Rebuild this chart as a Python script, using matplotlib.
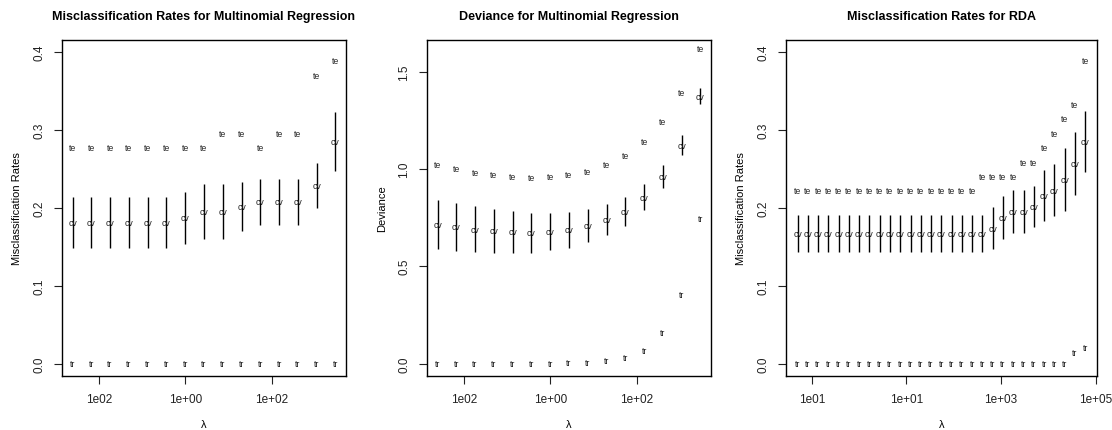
## three panels: misclassification / deviance along the lambda path

import numpy as np
import matplotlib
matplotlib.use('Agg')
import matplotlib.pyplot as plt

plt.rcParams['font.family'] = ['Liberation Sans', 'DejaVu Sans']

## data
# multinomial regression, lambda = exp(logLam1)
logLam1 = [-6, -5, -4, -3, -2, -1, 0, 1, 2, 3, 4, 5, 6, 7, 8]

# misclassification rates
te1 = [0.278, 0.278, 0.278, 0.278, 0.278, 0.278, 0.278, 0.278, 0.296, 0.296, 0.278, 0.296, 0.296, 0.370, 0.389]
cv1 = [0.181, 0.181, 0.181, 0.181, 0.181, 0.181, 0.1875, 0.195, 0.195, 0.2015, 0.208, 0.208, 0.208, 0.229, 0.285]
se1 = [0.0327, 0.0327, 0.0327, 0.0327, 0.0327, 0.0327, 0.0335, 0.035, 0.035, 0.0317, 0.0296, 0.0296, 0.0296, 0.029, 0.0375]
tr1 = [0, 0, 0, 0, 0, 0, 0, 0, 0, 0, 0, 0, 0, 0, 0]

# deviance
te2 = [1.024, 1.002, 0.981, 0.973, 0.962, 0.957, 0.962, 0.973, 0.986, 1.024, 1.070, 1.140, 1.245, 1.395, 1.618]
cv2 = [0.716, 0.702, 0.690, 0.682, 0.677, 0.673, 0.678, 0.688, 0.709, 0.738, 0.783, 0.854, 0.960, 1.122, 1.374]
se2 = [0.125, 0.122, 0.117, 0.112, 0.107, 0.103, 0.096, 0.093, 0.085, 0.080, 0.074, 0.066, 0.060, 0.052, 0.041]
tr2 = [0, 0, 0, 0, 0, 0, 0, 0.003, 0.004, 0.014, 0.031, 0.065, 0.157, 0.353, 0.746]

# RDA, lambda = exp(logLam3)
logLam3 = [-3, -2.5, -2, -1.5, -1, -0.5, 0, 0.5, 1, 1.5, 2, 2.5, 3, 3.5, 4, 4.5, 5,
           5.5, 6, 6.5, 7, 7.5, 8, 8.5, 9, 9.5, 10, 10.5, 11]
te3 = [0.2226, 0.2226, 0.2226, 0.2226, 0.2226, 0.2226, 0.2226, 0.2226, 0.2226, 0.2226,
       0.2226, 0.2226, 0.2226, 0.2226, 0.2226, 0.2226, 0.2226, 0.2226, 0.2406, 0.2406,
       0.2406, 0.2406, 0.2585, 0.2585, 0.2778, 0.2955, 0.3148, 0.333, 0.389]
cv3 = [0.1668, 0.1668, 0.1668, 0.1668, 0.1668, 0.1668, 0.1668, 0.1668, 0.1668, 0.1668,
       0.1668, 0.1668, 0.1668, 0.1668, 0.1668, 0.1668, 0.1668, 0.1668, 0.1668, 0.1735,
       0.1877, 0.1952, 0.1952, 0.2018, 0.2157, 0.2225, 0.2367, 0.2570, 0.2850]
se3 = [0.0235, 0.0235, 0.0235, 0.0235, 0.0235, 0.0235, 0.0235, 0.0235, 0.0235, 0.0235,
       0.0235, 0.0235, 0.0235, 0.0235, 0.0235, 0.0235, 0.0235, 0.0235, 0.0235, 0.027,
       0.0278, 0.028, 0.028, 0.0261, 0.0329, 0.0333, 0.0406, 0.0406, 0.0389]
tr3 = [0, 0, 0, 0, 0, 0, 0, 0, 0, 0, 0, 0, 0, 0, 0, 0, 0, 0, 0, 0, 0, 0, 0, 0, 0, 0, 0, 0.0137, 0.021]

# tick labels as printed
xt1 = [1e-2, 1e0, 1e2]
xtl1 = ['1e02', '1e+00', '1e+02']
xt3 = [1e-1, 1e1, 1e3, 1e5]
xtl3 = ['1e01', '1e+01', '1e+03', '1e+05']

## figure
W, H = 1112, 431
fig = plt.figure(figsize=(W / 100, H / 100), dpi=100)

def box(x0, x1, y0=40.7, y1=377):
    # pixel box -> figure fractions
    return [x0 / W, 1 - y1 / H, (x1 - x0) / W, (y1 - y0) / H]

def panel(rect, logLam, te, cv, se, tr, ylim, yticks, xt, xtl, title, ylab):
    ax = fig.add_axes(rect)
    lam = np.exp(np.array(logLam))
    cv = np.array(cv)
    se = np.array(se)
    ax.set_xscale('log')
    ax.vlines(lam, cv - se, cv + se, colors='black', linewidth=1.0)
    for x, a, b, c in zip(lam, te, cv, tr):
        ax.text(x, a, 'te', fontsize=6.3, ha='center', va='center', color='#222222')
        ax.text(x, b, 'cv', fontsize=6.3, ha='center', va='center', color='#222222')
        ax.text(x, c, 'tr', fontsize=6.3, ha='center', va='center', color='#222222')
    # R style 4% padding on log x
    lo, hi = np.log10(lam[0]), np.log10(lam[-1])
    pad = 0.04 * (hi - lo)
    ax.set_xlim(10 ** (lo - pad), 10 ** (hi + pad))
    ax.set_ylim(ylim)
    ax.set_xticks(xt)
    ax.set_xticklabels(xtl)
    ax.minorticks_off()
    ax.set_yticks(yticks)
    ax.set_yticklabels(['%.1f' % v for v in yticks], rotation=90, va='center')
    ax.tick_params(direction='out', length=6, width=0.8, labelsize=8.5, pad=6, colors='#222222')
    for s in ax.spines.values():
        s.set_linewidth(1.0)
    ax.set_title(title, fontsize=9, fontweight='bold', pad=15)
    ax.set_xlabel('λ', fontsize=8, labelpad=10)
    ax.set_ylabel(ylab, fontsize=8, labelpad=8)
    return ax

panel(box(62, 346), logLam1, te1, cv1, se1, tr1, (-0.016, 0.416), [0.0, 0.1, 0.2, 0.3, 0.4],
      xt1, xtl1, 'Misclassification Rates for Multinomial Regression', 'Misclassification Rates')
panel(box(427, 711), logLam1, te2, cv2, se2, tr2, (-0.064, 1.664), [0.0, 0.5, 1.0, 1.5],
      xt1, xtl1, 'Deviance for Multinomial Regression', 'Deviance')
panel(box(786, 1096.7), logLam3, te3, cv3, se3, tr3, (-0.016, 0.416), [0.0, 0.1, 0.2, 0.3, 0.4],
      xt3, xtl3, 'Misclassification Rates for RDA', 'Misclassification Rates')

fig.savefig('out.png', dpi=100)
